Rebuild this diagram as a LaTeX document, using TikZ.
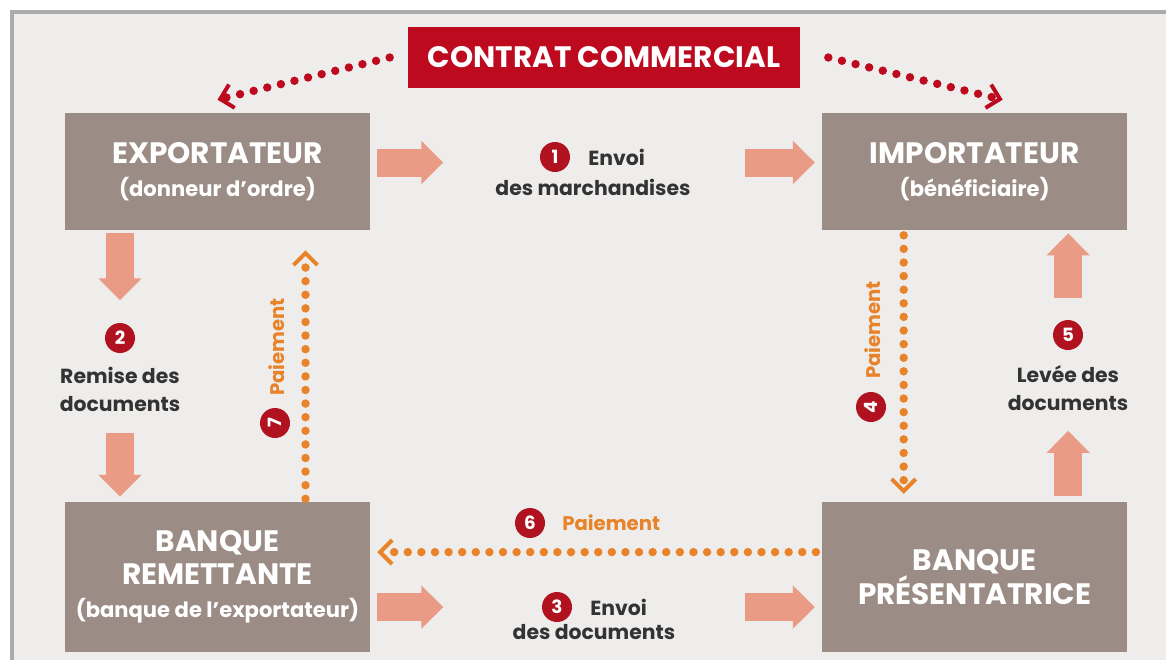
\documentclass[tikz,border=0pt]{standalone}
\usepackage{fontspec}
\setmainfont{Poppins}
\usetikzlibrary{positioning, arrows.meta, calc}

\definecolor{fond}{HTML}{EEEDEB}
\definecolor{cadre}{HTML}{ABABAB}
\definecolor{boite}{HTML}{9B8D86}
\definecolor{saumon}{HTML}{E99B86}
\definecolor{rouge}{HTML}{BE0A1E}
\definecolor{pastille}{HTML}{B0121F}
\definecolor{orange}{HTML}{E8832A}
\definecolor{texte}{HTML}{333333}

\newcommand{\petit}{\fontsize{15}{23}\selectfont}

\tikzset{
  acteur/.style={fill=boite, text=white, align=center, inner sep=0pt,
    minimum width=7.625cm, minimum height=2.925cm,
    font=\bfseries\fontsize{21}{23.5}\selectfont},
  banque/.style={acteur, minimum height=3.75cm},
  etape/.style={circle, fill=pastille, text=white, inner sep=0pt,
    minimum size=0.75cm, font=\bfseries\fontsize{13}{13}\selectfont},
  legende/.style={text=texte, align=center, inner sep=0pt,
    font=\bfseries\fontsize{14.5}{20}\selectfont},
  fleche/.style={draw=saumon, line width=0.7cm,
    -{Triangle[length=0.55cm, width=1.05cm]}},
  paie/.style={draw=orange, line width=6pt, line cap=round,
    dash pattern=on 0pt off 0.34cm,
    -{Straight Barb[length=0.3cm, width=0.6cm, line width=2.8pt]}},
  lien/.style={paie, draw=rouge, dash pattern=on 0pt off 0.35cm},
  vertical/.style={legende, text=orange, rotate=90,
    font=\bfseries\fontsize{14}{14}\selectfont}
}

\begin{document}
\begin{tikzpicture}[x=0.025cm, y=-0.025cm, node distance=2cm, on grid]
  \useasboundingbox (0,0) rectangle (1166,659);
  \fill[white] (0,0) rectangle (1166,659);
  \draw[cadre, line width=2.5pt, fill=fond] (12,12) rectangle (1200,700);

  % acteurs
  \node[acteur] (exp) at (217.5,171.5) {EXPORTATEUR\\{\petit (donneur d'ordre)}};
  \node[acteur] (imp) [right=18.925cm of exp] {IMPORTATEUR\\{\petit (bénéficiaire)}};
  \node[banque] (brem) [below=10.1375cm of exp] {BANQUE\\REMETTANTE\\{\petit (banque de l'exportateur)}};
  \node[banque] (bpres) [right=18.925cm of brem] {BANQUE\\PRÉSENTATRICE};

  \node[fill=rouge, text=white, minimum width=9.8cm, minimum height=1.525cm,
    font=\bfseries\fontsize{21}{23}\selectfont] (contrat) at (604,57.5) {CONTRAT COMMERCIAL};

  % contrat vers les parties
  \draw[lien] ($(contrat.west)+(-18,0)$) -- ($(exp.north)+(0,-13)$);
  \draw[lien] ($(contrat.east)+(28,0)$) -- ($(imp.north)+(28,-13)$);

  % 1 envoi des marchandises
  \draw[fleche] ($(exp.east)+(7,-9)$) -- ++(66,0);
  \draw[fleche] ($(imp.west)+(-77,-9)$) -- ($(imp.west)+(-7,-9)$);
  \node[etape] (n1) at (555,157) {1};
  \node[legende, anchor=west] (t1) at (588,157) {Envoi};
  \node[legende] (t1b) at (593,187) {des marchandises};

  % 2 remise des documents
  \draw[fleche] ($(exp.south)+(-97.5,3)$) -- ++(0,67);
  \draw[fleche] ($(brem.north)+(-97.5,-69)$) -- ($(brem.north)+(-97.5,-5)$);
  \node[etape] (n2) at (120,338) {2};
  \node[legende] (t2) at (120,389) {Remise des\\documents};

  % 3 envoi des documents
  \draw[fleche] ($(brem.east)+(7,30)$) -- ++(66,0);
  \draw[fleche] ($(bpres.west)+(-77,30)$) -- ($(bpres.west)+(-7,30)$);
  \node[etape] (n3) at (557,607) {3};
  \node[legende, anchor=west] (t3) at (590,607) {Envoi};
  \node[legende] (t3b) at (594,632) {des documents};

  % 4 paiement
  \draw[paie] ($(imp.south)+(-71,5)$) -- ($(bpres.north)+(-71,-8)$);
  \node[vertical] (t4) at (873,330) {Paiement};
  \node[etape, rotate=90] (n4) at (871,407) {4};

  % 5 levee des documents
  \draw[fleche] ($(imp.south)+(93.5,68)$) -- ($(imp.south)+(93.5,3)$);
  \draw[fleche] ($(bpres.north)+(93.5,-6)$) -- ++(0,-65);
  \node[etape] (n5) at (1068,335) {5};
  \node[legende] (t5) at (1068,388) {Levée des\\documents};

  % 6 paiement
  \draw[paie] ($(bpres.west)+(-6,-25)$) -- ($(brem.east)+(7,-25)$);
  \node[etape] (n6) at (530,523) {6};
  \node[legende, text=orange, anchor=west, font=\bfseries\fontsize{14}{14}\selectfont] (t6) at (562,523) {Paiement};

  % 7 paiement
  \draw[paie] ($(brem.north)+(88,-3)$) -- ($(exp.south)+(88,20)$);
  \node[vertical] (t7) at (277,347) {Paiement};
  \node[etape, rotate=90] (n7) at (275,423) {7};
\end{tikzpicture}
\end{document}
